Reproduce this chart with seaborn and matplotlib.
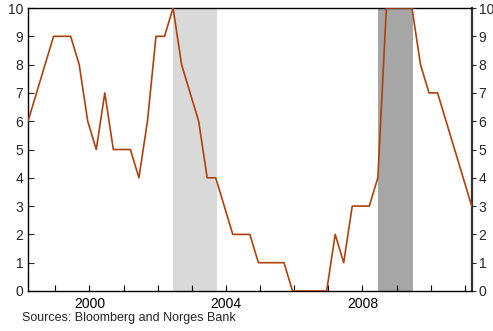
import matplotlib
matplotlib.use("Agg")
import matplotlib.pyplot as plt
import seaborn as sns
import numpy as np
import pandas as pd

# quarterly observations, starting 1998.2
start_year = 1998.2
values = [6, 7, 8, 9, 9, 9, 8, 6,
          5, 7, 5, 5, 5, 4, 6, 9,
          9, 10, 8, 7, 6, 4, 4, 3,
          2, 2, 2, 1, 1, 1, 1, 0,
          0, 0, 0, 0, 2, 1, 3, 3,
          3, 4, 10, 10, 10, 10, 8, 7,
          7, 6, 5, 4, 3]
dates = [start_year + 0.25 * i for i in range(len(values))]

light_band = (2002.46, 2003.73)
dark_band = (2008.46, 2009.49)
x_ticks = [2000, 2004, 2008]
y_ticks = list(range(0, 11))

df = pd.DataFrame({"date": dates, "value": values})

sns.set_style("white")
plt.rcParams["font.family"] = ["Liberation Sans", "DejaVu Sans"]

fig = plt.figure(figsize=(4.93, 3.31), dpi=100)
ax = fig.add_axes([28 / 493, 40 / 331, (471.7 - 28) / 493, (291 - 8) / 331])

ax.axvspan(*light_band, color="#d9d9d9", lw=0, zorder=0)
ax.axvspan(*dark_band, color="#a6a6a6", lw=0, zorder=0)

sns.lineplot(data=df, x="date", y="value", color="#b0400c", lw=1.2, ax=ax, zorder=3)

ax.set_xlim(1998.2, 2011.2)
ax.set_ylim(0, 10)
ax.set_xticks(x_ticks)
ax.set_xticklabels([str(t) for t in x_ticks])
ax.set_xticks(range(1999, 2012), minor=True)
ax.set_yticks(y_ticks)
ax.set_xlabel("")
ax.set_ylabel("")

for s in ax.spines.values():
    s.set_color("black")
    s.set_linewidth(1.0)
ax.spines["right"].set_color("#333333")
ax.spines["right"].set_linewidth(1.6)

ax.tick_params(axis="x", which="both", direction="in", length=4, width=0.8,
               labelsize=10, pad=4, bottom=True, colors="black")
ax.tick_params(axis="y", which="major", direction="in", length=4, width=0.8,
               labelsize=10, left=True)

ax2 = ax.twinx()
ax2.set_ylim(0, 10)
ax2.set_yticks(y_ticks)
ax2.tick_params(axis="y", direction="out", length=3, width=0.8, labelsize=10, pad=2)
for s in ax2.spines.values():
    s.set_visible(False)

fig.text(22 / 493, 1 - 318 / 331, "Sources: Bloomberg and Norges Bank",
         fontsize=9, va="center", ha="left")

fig.savefig("out.png", dpi=100)
